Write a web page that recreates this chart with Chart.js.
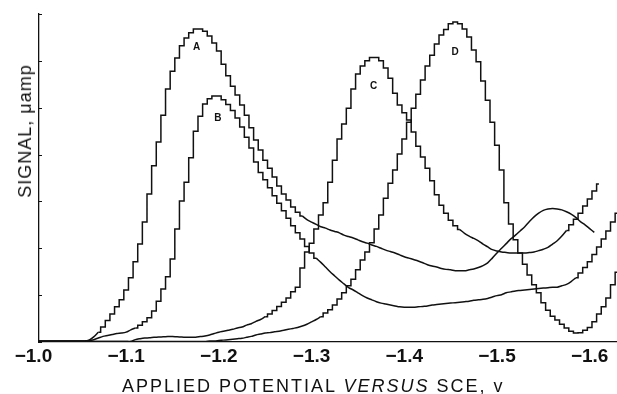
<!DOCTYPE html>
<html>
<head>
<meta charset="utf-8">
<script src="https://cdn.jsdelivr.net/npm/chart.js@4.4.0/dist/chart.umd.min.js"></script>
<style>
  body { margin: 0; background: #fff; }
  #wrap { position: relative; width: 617px; height: 394px; }
  #xtitle {
    position: absolute; left: 122px; top: 377px;
    font: 18px "Liberation Sans", Arial, sans-serif; line-height: 18px;
    letter-spacing: 2px; white-space: nowrap; color: #111;
  }
  #ytitle {
    position: absolute; left: 25px; top: 131px;
    transform: translate(-50%, -50%) rotate(-90deg);
    font: 18px "Liberation Sans", Arial, sans-serif; line-height: 18px;
    letter-spacing: 1px; white-space: nowrap; color: #111;
  }
</style>
</head>
<body>
<div id="wrap">
  <canvas id="plot" width="617" height="394"></canvas>
  <div id="xtitle">APPLIED POTENTIAL <i>VERSUS</i> SCE, v</div>
  <div id="ytitle">SIGNAL, μamp</div>
</div>
<script>
  // applied potential (V vs SCE), one entry per staircase step
  const potential = [
    -1.000,-1.005,-1.010,-1.015,-1.020,-1.025,-1.030,-1.035,-1.040,-1.045,
    -1.050,-1.055,-1.060,-1.065,-1.070,-1.075,-1.080,-1.085,-1.090,-1.095,
    -1.100,-1.105,-1.110,-1.115,-1.120,-1.125,-1.130,-1.135,-1.140,-1.145,
    -1.150,-1.155,-1.160,-1.165,-1.170,-1.175,-1.180,-1.185,-1.190,-1.195,
    -1.200,-1.205,-1.210,-1.215,-1.220,-1.225,-1.230,-1.235,-1.240,-1.245,
    -1.250,-1.255,-1.260,-1.265,-1.270,-1.275,-1.280,-1.285,-1.290,-1.295,
    -1.300,-1.305,-1.310,-1.315,-1.320,-1.325,-1.330,-1.335,-1.340,-1.345,
    -1.350,-1.355,-1.360,-1.365,-1.370,-1.375,-1.380,-1.385,-1.390,-1.395,
    -1.400,-1.405,-1.410,-1.415,-1.420,-1.425,-1.430,-1.435,-1.440,-1.445,
    -1.450,-1.455,-1.460,-1.465,-1.470,-1.475,-1.480,-1.485,-1.490,-1.495,
    -1.500,-1.505,-1.510,-1.515,-1.520,-1.525,-1.530,-1.535,-1.540,-1.545,
    -1.550,-1.555,-1.560,-1.565,-1.570,-1.575,-1.580,-1.585,-1.590,-1.595,
    -1.600,-1.605,-1.610,-1.615,-1.620,-1.625,-1.630
  ];

  const signalA = [
    0.02,0.02,0.02,0.02,0.02,0.02,0.02,0.02,0.02,0.02,
    0.02,0.02,0.04,0.11,0.21,0.32,0.46,0.60,0.75,0.90,
    1.11,1.37,1.71,2.09,2.56,3.16,3.76,4.27,4.84,5.40,
    5.78,6.06,6.32,6.49,6.60,6.68,6.68,6.63,6.53,6.38,
    6.21,5.93,5.68,5.46,5.27,5.06,4.84,4.57,4.31,4.10,
    3.88,3.71,3.52,3.33,3.16,3.03,2.88,2.77,2.69,2.61,
    2.56,2.51,2.46,2.43,2.39,2.36,2.33,2.28,2.25,2.22,
    2.18,2.14,2.11,2.07,2.04,2.00,1.96,1.93,1.90,1.86,
    1.82,1.79,1.76,1.73,1.69,1.65,1.62,1.60,1.57,1.55,
    1.54,1.52,1.52,1.52,1.54,1.56,1.59,1.63,1.69,1.79,
    1.90,2.00,2.10,2.20,2.28,2.37,2.46,2.57,2.67,2.75,
    2.81,2.84,2.85,2.84,2.82,2.78,2.73,2.66,2.57,2.50,
    2.42,2.34,null,null,null,null,null
  ];

  const signalB = [
    0.02,0.02,0.02,0.02,0.02,0.02,0.02,0.02,0.02,0.02,
    0.02,0.02,0.03,0.05,0.085,0.12,0.14,0.16,0.18,0.19,
    0.21,0.26,0.30,0.36,0.43,0.52,0.66,0.87,1.13,1.39,
    1.77,2.41,3.01,3.41,3.93,4.50,4.82,5.08,5.19,5.25,
    5.25,5.17,5.07,4.94,4.78,4.59,4.37,4.14,3.84,3.62,
    3.46,3.29,3.12,2.96,2.80,2.64,2.48,2.33,2.20,2.04,
    1.90,1.79,1.70,1.60,1.50,1.41,1.32,1.24,1.16,1.11,
    1.05,0.99,0.94,0.90,0.86,0.83,0.81,0.79,0.77,0.75,
    0.74,0.74,0.74,0.75,0.76,0.77,0.79,0.80,0.81,0.82,
    0.83,0.84,0.85,0.86,0.87,0.89,0.90,0.91,0.93,0.96,
    0.99,1.01,1.05,1.07,1.09,1.10,1.11,1.12,1.13,1.14,
    1.15,1.16,1.17,1.17,1.20,1.23,1.29,1.37,1.47,1.59,
    1.71,1.87,2.03,2.20,2.37,2.56,2.75
  ];

  const signalC = [
    0.01,0.01,0.01,0.01,0.01,0.01,0.01,0.01,0.01,0.01,
    0.01,0.01,0.01,0.01,0.01,0.01,0.01,0.01,0.01,0.01,
    0.01,0.01,0.05,0.07,0.085,0.09,0.10,0.107,0.11,0.115,
    0.117,0.11,0.107,0.10,0.10,0.10,0.115,0.13,0.15,0.18,
    0.21,0.23,0.25,0.27,0.30,0.32,0.36,0.39,0.44,0.48,
    0.54,0.60,0.67,0.76,0.85,0.94,1.07,1.17,1.58,1.92,
    2.11,2.41,2.71,2.97,3.41,3.88,4.33,4.65,4.99,5.40,
    5.72,5.89,6.00,6.07,6.07,6.00,5.85,5.63,5.31,5.06,
    4.89,4.74,4.48,4.18,3.95,3.71,3.44,3.14,2.92,2.75,
    2.60,2.48,2.40,2.32,2.26,2.21,2.16,2.09,2.03,1.97,
    1.94,1.92,1.91,1.90,1.90,1.90,1.90,1.91,1.92,1.95,
    1.98,2.02,2.09,2.16,2.26,2.38,2.50,2.62,2.75,2.90,
    3.05,3.22,3.37,null,null,null,null
  ];

  const signalD = [
    0.01,0.01,0.01,0.01,0.01,0.01,0.01,0.01,0.01,0.01,
    0.01,0.01,0.01,0.01,0.01,0.01,0.01,0.01,0.01,0.01,
    0.01,0.01,0.01,0.01,0.01,0.01,0.01,0.01,0.01,0.01,
    0.01,0.01,0.01,0.01,0.01,0.01,0.01,0.01,0.02,0.02,
    0.03,0.04,0.05,0.06,0.07,0.08,0.10,0.12,0.15,0.17,
    0.19,0.20,0.22,0.23,0.25,0.27,0.29,0.31,0.34,0.38,
    0.43,0.48,0.54,0.62,0.69,0.79,0.92,1.05,1.20,1.34,
    1.54,1.75,1.92,2.12,2.41,2.71,3.07,3.39,3.67,4.01,
    4.33,4.69,4.99,5.29,5.59,5.89,6.12,6.36,6.55,6.67,
    6.79,6.83,6.79,6.68,6.51,6.23,5.98,5.57,5.16,4.69,
    4.20,3.67,2.97,2.52,2.18,1.90,1.66,1.43,1.22,1.05,
    0.84,0.68,0.55,0.47,0.38,0.30,0.23,0.19,0.20,0.25,
    0.31,0.43,0.60,0.75,0.94,1.22,1.49
  ];

  // index ranges where the recorder trace shows the staircase; the rest is a smooth pen line
  const stairsA = [[14, 58]];
  const stairsB = [[22, 61], [117, 126]];
  const stairsC = [[50, 92], [115, 122]];
  const stairsD = [[62, 126]];

  const xTicks = [-1.0, -1.1, -1.2, -1.3, -1.4, -1.5, -1.6];

  // letters written inside each peak
  const peakNames = ['A', 'B', 'C', 'D'];
  const peakNameAt = [-1.176, -1.199, -1.367, -1.455];
  const peakNameSignal = [6.3, 4.78, 5.46, 6.19];

  const ink = '#111';

  function inStairs(i, ranges, inner) {
    return ranges.some(([a, b]) => inner ? (i > a && i < b) : (i >= a && i <= b));
  }

  function curve(label, values, ranges) {
    const common = { borderColor: ink, borderWidth: 1.5, pointRadius: 0, fill: false, spanGaps: false };
    const stepped = potential.map((p, i) => ({ x: p, y: inStairs(i, ranges, false) ? values[i] : null }));
    const smooth = potential.map((p, i) => ({ x: p, y: inStairs(i, ranges, true) ? null : values[i] }));
    return [
      Object.assign({ label: label + ' steps', data: stepped, stepped: 'middle' }, common),
      Object.assign({ label: label, data: smooth, tension: 0.3 }, common)
    ];
  }

  const markings = {
    id: 'markings',
    afterDatasetsDraw(chart) {
      const { ctx, scales: { x, y } } = chart;
      ctx.save();
      ctx.fillStyle = ink;
      ctx.font = 'bold 10px "Liberation Sans", Arial, sans-serif';
      ctx.textAlign = 'center';
      ctx.textBaseline = 'middle';
      peakNames.forEach((name, i) => {
        ctx.fillText(name, x.getPixelForValue(peakNameAt[i]), y.getPixelForValue(peakNameSignal[i]));
      });
      // little tick marks inside the signal axis
      ctx.strokeStyle = ink;
      ctx.lineWidth = 1;
      y.ticks.forEach(t => {
        const py = Math.round(y.getPixelForValue(t.value)) + 0.5;
        ctx.beginPath();
        ctx.moveTo(x.left, py);
        ctx.lineTo(x.left + 3, py);
        ctx.stroke();
      });
      ctx.restore();
    }
  };

  new Chart(document.getElementById('plot'), {
    type: 'line',
    data: {
      datasets: [
        ...curve('A', signalA, stairsA),
        ...curve('B', signalB, stairsB),
        ...curve('C', signalC, stairsC),
        ...curve('D', signalD, stairsD)
      ]
    },
    options: {
      responsive: false,
      animation: false,
      devicePixelRatio: 1,
      layout: { padding: { left: 39, top: 14, right: 0, bottom: 0 } },
      plugins: { legend: { display: false }, tooltip: { enabled: false } },
      scales: {
        x: {
          type: 'linear',
          reverse: true,
          min: -1.6295,
          max: -1.006,
          afterBuildTicks: s => { s.ticks = xTicks.map(v => ({ value: v })); },
          afterFit: s => { s.height = 52; },
          grid: { display: false, drawTicks: false },
          border: { color: ink, width: 1.3 },
          ticks: {
            autoSkip: false,
            maxRotation: 0,
            padding: 3,
            color: ink,
            font: { family: '"Liberation Sans", Arial, sans-serif', size: 19, weight: 'bold' },
            callback: v => '\u2212' + Math.abs(v).toFixed(1)
          }
        },
        y: {
          min: 0,
          max: 7,
          afterFit: s => { s.width = 0; },
          grid: { display: false },
          border: { color: ink, width: 1.3 },
          ticks: { display: false, stepSize: 1 }
        }
      }
    },
    plugins: [markings]
  });
</script>
</body>
</html>
